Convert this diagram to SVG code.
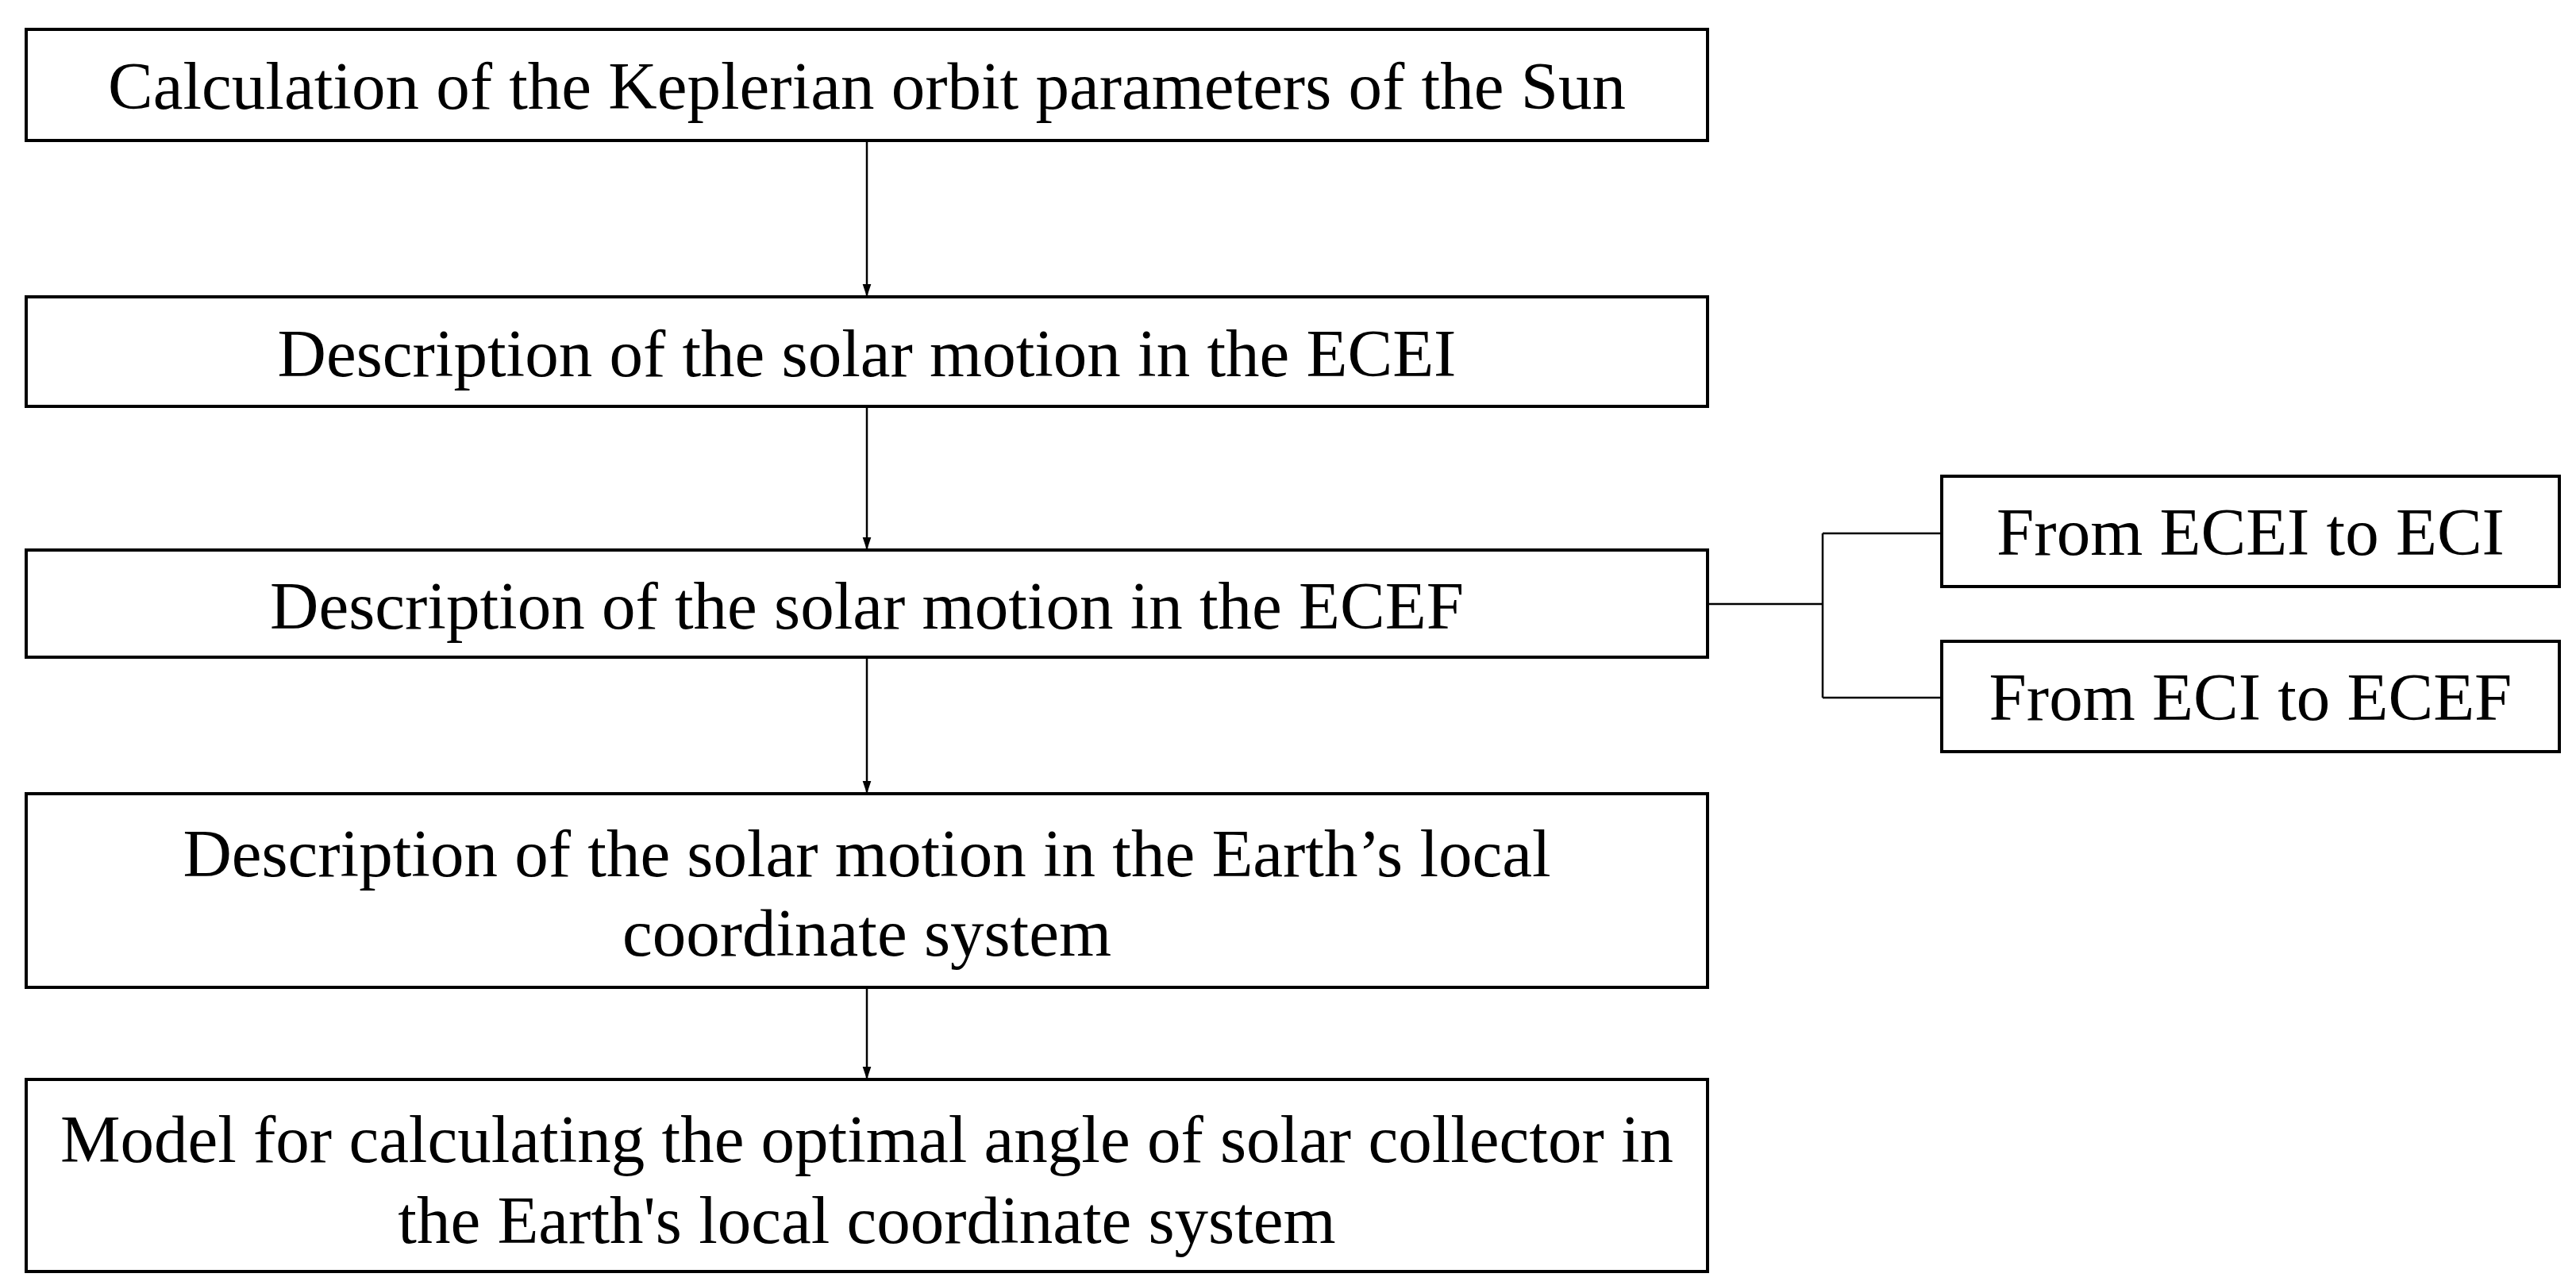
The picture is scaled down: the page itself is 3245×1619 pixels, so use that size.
<svg xmlns="http://www.w3.org/2000/svg" width="3245" height="1619" viewBox="0 0 3245 1619">
<style>
.b{fill:#fff;stroke:#000;stroke-width:4}
.t{font-family:"Liberation Serif","Times New Roman",serif;font-size:85px;text-anchor:middle;fill:#000}
.c{fill:none;stroke:#000;stroke-width:2.5}
</style>
<defs><marker id="a" markerWidth="16" markerHeight="24" refX="24" refY="8" orient="auto" markerUnits="userSpaceOnUse" viewBox="0 0 24 16"><path d="M0,0L24,8L0,16z" fill="#000"/></marker></defs>
<rect width="3245" height="1619" fill="#fff"/>
<g id="connectors">
<line class="c" x1="1092" y1="177" x2="1092" y2="374" marker-end="url(#a)"/>
<line class="c" x1="1092" y1="512" x2="1092" y2="693" marker-end="url(#a)"/>
<line class="c" x1="1092" y1="828" x2="1092" y2="1000" marker-end="url(#a)"/>
<line class="c" x1="1092" y1="1244" x2="1092" y2="1360" marker-end="url(#a)"/>
<path class="c" d="M2151,761H2296M2296,672V879M2296,672H2446M2296,879H2446"/>
</g>
<g id="n1"><rect class="b" x="33" y="37" width="2118" height="140"/><text class="t" x="1092" y="137">Calculation of the Keplerian orbit parameters of the Sun</text></g>
<g id="n2"><rect class="b" x="33" y="374" width="2118" height="138"/><text class="t" x="1092" y="474">Description of the solar motion in the ECEI</text></g>
<g id="n3"><rect class="b" x="33" y="693" width="2118" height="135"/><text class="t" x="1092" y="792">Description of the solar motion in the ECEF</text></g>
<g id="n4"><rect class="b" x="33" y="1000" width="2118" height="244"/><text class="t" x="1092" y="1104">Description of the solar motion in the Earth’s local</text><text class="t" x="1092" y="1204">coordinate system</text></g>
<g id="n5"><rect class="b" x="33" y="1360" width="2118" height="242"/><text class="t" x="1092" y="1464">Model for calculating the optimal angle of solar collector in</text><text class="t" x="1092" y="1566">the Earth's local coordinate system</text></g>
<g id="s1"><rect class="b" x="2446" y="600" width="778" height="139"/><text class="t" x="2835" y="699">From ECEI to ECI</text></g>
<g id="s2"><rect class="b" x="2446" y="808" width="778" height="139"/><text class="t" x="2835" y="907">From ECI to ECEF</text></g>
</svg>
